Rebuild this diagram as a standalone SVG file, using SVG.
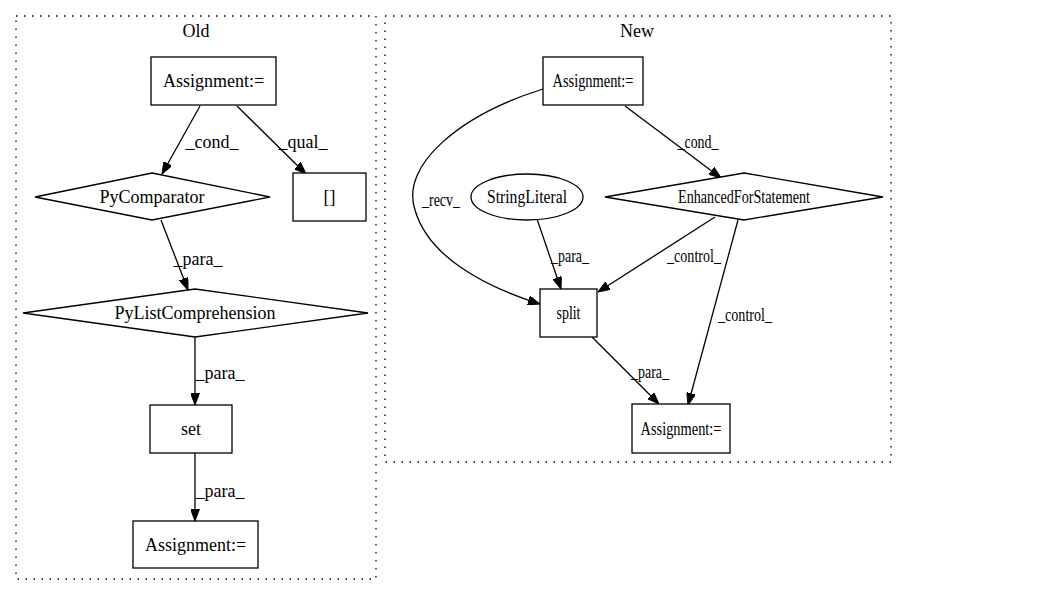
<svg xmlns="http://www.w3.org/2000/svg" width="1044" height="596" viewBox="0 0 1044 596">
<style>
text{font-family:"Liberation Serif","Times New Roman",serif;font-size:18px;fill:#000;text-anchor:middle}
.n{fill:#fff;stroke:#000;stroke-width:1.3}
.c{fill:none;stroke:#000;stroke-width:1.3;stroke-dasharray:1.5,6.5}
.e{fill:none;stroke:#000;stroke-width:1.3;marker-end:url(#a)}
</style>
<defs>
<marker id="a" markerWidth="12" markerHeight="9" refX="12" refY="4.5" orient="auto" markerUnits="userSpaceOnUse">
<path d="M0,0 L12,4.5 L0,9 z" fill="#000" stroke="#000" stroke-width="1"/>
</marker>
</defs>
<rect width="1044" height="596" fill="#fff"/>
<g id="cluster_old">
<rect class="c" x="16" y="16" width="360" height="563"/>
<text x="196" y="37">Old</text>
</g>
<g id="cluster_new">
<rect class="c" x="385" y="16" width="506" height="446"/>
<text x="637" y="37">New</text>
</g>
<g id="edges">
<path class="e" d="M200,106 L162,174"/>
<text x="212" y="148">_cond_</text>
<path class="e" d="M237,106 L306,174"/>
<text x="303" y="148">_qual_</text>
<path class="e" d="M161,220 L188,290"/>
<text x="198" y="265">_para_</text>
<path class="e" d="M195,337 L195,405"/>
<text x="220" y="379">_para_</text>
<path class="e" d="M195,453 L195,521"/>
<text x="220" y="497">_para_</text>
<path class="e" d="M543,89 C460,115 400,165 415,210 C428,255 480,285 540,304"/>
<text x="441" y="206" textLength="38" lengthAdjust="spacingAndGlyphs">_recv_</text>
<path class="e" d="M625,106 L721,178"/>
<text x="698" y="148" textLength="41" lengthAdjust="spacingAndGlyphs">_cond_</text>
<path class="e" d="M537,219 L561,289"/>
<text x="570" y="262" textLength="38" lengthAdjust="spacingAndGlyphs">_para_</text>
<path class="e" d="M715,217 L598,292"/>
<text x="694" y="262" textLength="54" lengthAdjust="spacingAndGlyphs">_control_</text>
<path class="e" d="M738,220 L688,405"/>
<text x="745" y="321" textLength="54" lengthAdjust="spacingAndGlyphs">_control_</text>
<path class="e" d="M592,337 L659,404"/>
<text x="650" y="378" textLength="38" lengthAdjust="spacingAndGlyphs">_para_</text>
</g>
<g id="old_assign1">
<rect class="n" x="151" y="57" width="125" height="48"/>
<text x="213.5" y="87">Assignment:=</text>
</g>
<g id="old_pycomparator">
<polygon class="n" points="152,173 270,197 152,220 35,197"/>
<text x="152" y="203">PyComparator</text>
</g>
<g id="old_index">
<rect class="n" x="293" y="173" width="73" height="48"/>
<text x="329.5" y="203">[]</text>
</g>
<g id="old_pylistcomp">
<polygon class="n" points="195,289 368,313 195,337 23,313"/>
<text x="195" y="319">PyListComprehension</text>
</g>
<g id="old_set">
<rect class="n" x="150" y="405" width="82" height="48"/>
<text x="191" y="435">set</text>
</g>
<g id="old_assign2">
<rect class="n" x="133" y="521" width="125" height="47"/>
<text x="195.5" y="551">Assignment:=</text>
</g>
<g id="new_assign1">
<rect class="n" x="543" y="57" width="100" height="48"/>
<text x="593" y="87" textLength="81" lengthAdjust="spacingAndGlyphs">Assignment:=</text>
</g>
<g id="new_stringliteral">
<ellipse class="n" cx="527" cy="197" rx="56" ry="23"/>
<text x="527" y="203" textLength="80" lengthAdjust="spacingAndGlyphs">StringLiteral</text>
</g>
<g id="new_efs">
<polygon class="n" points="744,173 883,197 744,220 605,197"/>
<text x="744" y="203" textLength="132" lengthAdjust="spacingAndGlyphs">EnhancedForStatement</text>
</g>
<g id="new_split">
<rect class="n" x="540" y="289" width="57" height="48"/>
<text x="568.5" y="319" textLength="24" lengthAdjust="spacingAndGlyphs">split</text>
</g>
<g id="new_assign2">
<rect class="n" x="632" y="404" width="98" height="49"/>
<text x="681" y="435" textLength="81" lengthAdjust="spacingAndGlyphs">Assignment:=</text>
</g>
</svg>
